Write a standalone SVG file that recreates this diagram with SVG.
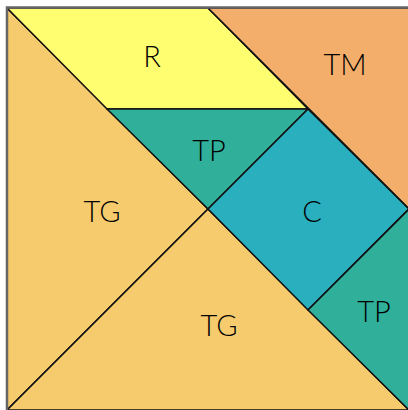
<svg xmlns="http://www.w3.org/2000/svg" width="408" height="410" viewBox="0 0 408 410">
<style>
.p{stroke:#111;stroke-width:1.6;stroke-linejoin:round}
.t{font-family:"Century Gothic","URW Gothic",Lato,"DejaVu Sans",sans-serif;font-weight:300;font-size:29px;fill:#000;text-anchor:middle;dominant-baseline:central}
</style>
<rect width="408" height="410" fill="#fff"/>
<g id="TG1"><polygon class="p" points="7,8 208,209 7,410" fill="#F6CB6E"/><text class="t" x="102" y="210">TG</text></g>
<g id="TG2"><polygon class="p" points="7,410 208,209 409,410" fill="#F6CB6E"/><text class="t" x="219" y="324">TG</text></g>
<g id="R"><polygon class="p" points="7,8 208,8 308,109 107,109" fill="#FFFD70"/><text class="t" x="152" y="55">R</text></g>
<g id="TM"><polygon class="p" points="208,8 409,8 409,209" fill="#F3AE6B"/><text class="t" x="345" y="63">TM</text></g>
<g id="TP1"><polygon class="p" points="107,109 308,109 208,209" fill="#30B09A"/><text class="t" x="209" y="149">TP</text></g>
<g id="C"><polygon class="p" points="308,109 409,209 308,310 208,209" fill="#2AAFBF"/><text class="t" x="312" y="210">C</text></g>
<g id="TP2"><polygon class="p" points="409,209 409,410 308,310" fill="#30B09A"/><text class="t" x="374" y="310">TP</text></g>
<g id="connectors"></g>
<path d="M7,410 V7.5 H408" fill="none" stroke="#666" stroke-width="2.5"/>
</svg>
